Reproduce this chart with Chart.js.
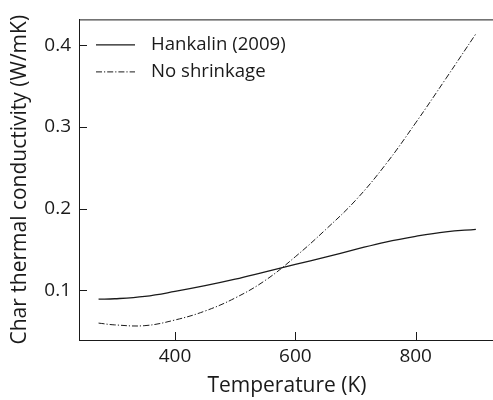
<!DOCTYPE html>
<html>
<head>
<meta charset="utf-8">
<script src="https://cdn.jsdelivr.net/npm/chart.js@4"></script>
<style>
  html, body { margin: 0; padding: 0; background: #fff; overflow: hidden; }
  #wrap { width: 520px; height: 400px; }
</style>
</head>
<body>
<div id="wrap"><canvas id="c" width="520" height="400"></canvas></div>
<script>
// Temperature grid (K)
const temperature = [273, 300, 350, 400, 450, 500, 550, 600, 650, 700, 750, 800, 850, 900];
// Char thermal conductivity (W/mK)
const hankalin = [0.0890, 0.0895, 0.0925, 0.0985, 0.1055, 0.1135, 0.1225, 0.1315, 0.1405, 0.1500, 0.1590, 0.1660, 0.1715, 0.1745];
const noShrinkage = [0.0597, 0.0575, 0.0566, 0.0635, 0.0745, 0.0905, 0.1120, 0.1410, 0.1740, 0.2100, 0.2540, 0.3050, 0.3590, 0.4140];
const xTicks = [400, 600, 800];
const yTicks = [0.1, 0.2, 0.3, 0.4];
const seriesNames = ['Hankalin (2009)', 'No shrinkage'];

const FONT = '"Open Sans", sans-serif';
const INK = '#1a1a1a';

const pts = (ys) => temperature.map((t, i) => ({ x: t, y: ys[i] }));

// Inward tick marks, top/right frame and an in-plot legend
const framePlugin = {
  id: 'frame',
  afterDraw(chart) {
    const { ctx, chartArea: a, scales } = chart;
    ctx.save();
    ctx.strokeStyle = INK;
    ctx.lineWidth = 1;
    ctx.beginPath();
    ctx.moveTo(a.left, a.top + 0.5);
    ctx.lineTo(a.right, a.top + 0.5);
    ctx.moveTo(a.right - 0.5, a.top);
    ctx.lineTo(a.right - 0.5, a.bottom);
    xTicks.forEach(v => {
      const x = Math.round(scales.x.getPixelForValue(v)) + 0.5;
      ctx.moveTo(x, a.bottom);
      ctx.lineTo(x, a.bottom - 8);
    });
    yTicks.forEach(v => {
      const y = Math.round(scales.y.getPixelForValue(v)) + 0.5;
      ctx.moveTo(a.left, y);
      ctx.lineTo(a.left + 8, y);
    });
    ctx.stroke();

    // legend
    ctx.font = '18.6px ' + FONT;
    ctx.textBaseline = 'middle';
    ctx.fillStyle = INK;
    chart.data.datasets.forEach((ds, i) => {
      const y = a.top + 25.5 + i * 27;
      ctx.beginPath();
      ctx.strokeStyle = ds.borderColor;
      ctx.lineWidth = ds.borderWidth;
      ctx.setLineDash(ds.borderDash || []);
      ctx.moveTo(a.left + 17, y);
      ctx.lineTo(a.left + 56, y);
      ctx.stroke();
      ctx.setLineDash([]);
      ctx.fillText(ds.label, a.left + 72, y);
    });
    ctx.restore();
  }
};

new Chart(document.getElementById('c'), {
  type: 'line',
  data: {
    datasets: [
      {
        label: seriesNames[0],
        data: pts(hankalin),
        borderColor: INK,
        borderWidth: 1.3,
        pointRadius: 0,
        fill: false,
        tension: 0.4
      },
      {
        label: seriesNames[1],
        data: pts(noShrinkage),
        borderColor: INK,
        borderWidth: 1,
        borderDash: [6, 2, 1.2, 2],
        pointRadius: 0,
        fill: false,
        tension: 0.4
      }
    ]
  },
  options: {
    responsive: false,
    animation: false,
    layout: { padding: { top: 18, right: 25, left: 0, bottom: 0 } },
    plugins: { legend: { display: false }, tooltip: { enabled: false } },
    scales: {
      x: {
        type: 'linear',
        min: 240.5,
        max: 931.8,
        afterBuildTicks: (s) => { s.ticks = xTicks.map(v => ({ value: v })); },
        afterFit: (s) => { s.height = 60; },
        grid: { display: true, drawOnChartArea: false, drawTicks: false },
        border: { color: INK, width: 1 },
        ticks: { color: INK, font: { family: FONT, size: 19 }, padding: 5, maxRotation: 0,
                 callback: (v) => String(v) },
        title: { display: true, text: 'Temperature (K)', color: INK,
                 font: { family: FONT, size: 21 }, padding: { top: 0, bottom: 1 } }
      },
      y: {
        type: 'linear',
        min: 0.039,
        max: 0.4317,
        afterBuildTicks: (s) => { s.ticks = yTicks.map(v => ({ value: v })); },
        afterFit: (s) => { s.width = 79; },
        grid: { display: true, drawOnChartArea: false, drawTicks: false },
        border: { color: INK, width: 1 },
        ticks: { color: INK, font: { family: FONT, size: 19 }, padding: 8,
                 callback: (v) => v.toFixed(1) },
        title: { display: true, text: 'Char thermal conductivity (W/mK)', color: INK,
                 font: { family: FONT, size: 21 }, padding: { top: 7, bottom: 0 } }
      }
    }
  },
  plugins: [framePlugin]
});
</script>
</body>
</html>
